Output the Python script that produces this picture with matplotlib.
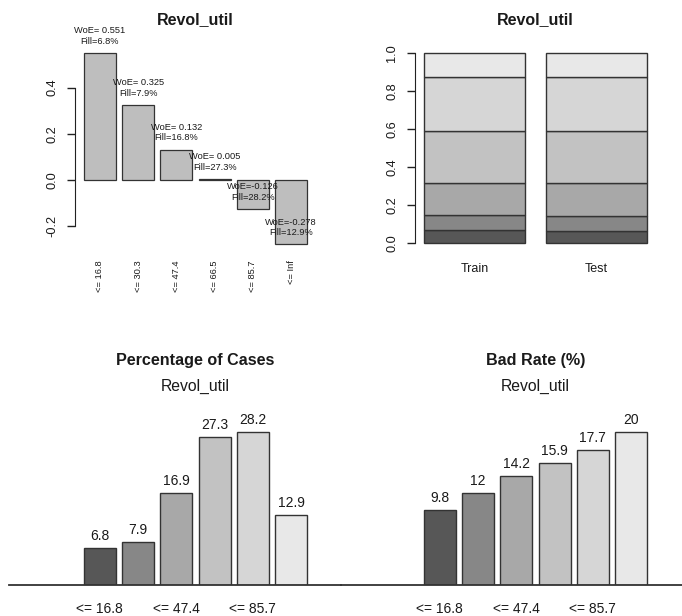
import numpy as np
import matplotlib
matplotlib.use('Agg')
import matplotlib.pyplot as plt

plt.rcParams['font.family'] = ['Liberation Sans', 'DejaVu Sans']

# ---------------- data ----------------
variable = 'Revol_util'
bins = ['<= 16.8', '<= 30.3', '<= 47.4', '<= 66.5', '<= 85.7', '<= Inf']
woe = [0.551, 0.325, 0.132, 0.005, -0.126, -0.278]
fill_pct = [6.8, 7.9, 16.8, 27.3, 28.2, 12.9]
pct_cases = [6.8, 7.9, 16.9, 27.3, 28.2, 12.9]
bad_rate = [9.8, 12, 14.2, 15.9, 17.7, 20]
samples = ['Train', 'Test']
train_dist = [6.8, 7.9, 16.9, 27.3, 28.2, 12.9]
test_dist = [6.6, 7.9, 17.1, 27.4, 28.1, 12.9]

# ---------------- style ----------------
shades = ['#575757', '#878787', '#A8A8A8', '#C2C2C2', '#D6D6D6', '#E8E8E8']
woe_fill = '#BEBEBE'
edge = '#333333'
txt = '#1a1a1a'

W, H = 682, 616
fig = plt.figure(figsize=(W / 100, H / 100), dpi=100)


def px_axes(l, t, r, b):
    return fig.add_axes([l / W, 1 - b / H, (r - l) / W, (b - t) / H])


def r_positions(n, space=0.2, width=1.0):
    right = np.cumsum(np.full(n, space + width))
    left = right - width
    centers = left + width / 2
    ext = 0.04 * (right.max() - left.min())
    return centers, (left.min() - ext, right.max() + ext)


def r_ylim(vals):
    lo, hi = min(min(vals), 0), max(max(vals), 0)
    ext = 0.04 * (hi - lo)
    return lo - ext, hi + ext


def style_yaxis(ax, lo, hi, ticks):
    for s in ['top', 'right', 'bottom']:
        ax.spines[s].set_visible(False)
    ax.spines['left'].set_bounds(lo, hi)
    ax.spines['left'].set_color('#222222')
    ax.set_yticks(ticks)
    ax.set_yticklabels([f'{t:.1f}' for t in ticks])
    ax.tick_params(axis='y', length=5.8, width=1, color='#222222', pad=6.3,
                   labelsize=9.2, labelrotation=90, labelcolor=txt)
    for lbl in ax.get_yticklabels():
        lbl.set_va('center')


# ---------------- top-left: WoE ----------------
ax1 = px_axes(75, 45, 316, 252)
c6, xl6 = r_positions(len(bins))
ax1.bar(c6, woe, width=1.0, color=woe_fill, edgecolor=edge, linewidth=0.9)
ax1.set_xlim(*xl6)
ax1.set_ylim(*r_ylim(woe))
style_yaxis(ax1, -0.2, 0.4, [-0.2, 0.0, 0.2, 0.4])
ax1.set_xticks(c6)
ax1.set_xticklabels(bins, rotation=90, fontsize=6.7, color=txt)
ax1.tick_params(axis='x', length=0, pad=5.8)
for x, w, f in zip(c6, woe, fill_pct):
    ax1.annotate(f'WoE={w: .3f}\nFill={f}%', (x, w), xytext=(0, 12.2),
                 textcoords='offset points', ha='center', va='center',
                 fontsize=6.7, linespacing=1.25, color=txt,
                 annotation_clip=False)
fig.text(195.5 / W, 1 - 20 / H, variable, ha='center', va='center',
         fontsize=11.5, fontweight='bold', color=txt)

# ---------------- top-right: Train / Test distribution ----------------
ax2 = px_axes(415, 45, 656, 251)
c2, xl2 = r_positions(len(samples))
bottom = np.zeros(len(samples))
for i in range(len(bins)):
    h = np.array([train_dist[i], test_dist[i]]) / 100.0
    ax2.bar(c2, h, bottom=bottom, width=1.0, color=shades[i],
            edgecolor=edge, linewidth=1.0)
    bottom += h
ax2.set_xlim(*xl2)
ax2.set_ylim(-0.04, 1.04)
style_yaxis(ax2, 0.0, 1.0, [0.0, 0.2, 0.4, 0.6, 0.8, 1.0])
ax2.set_xticks(c2)
ax2.set_xticklabels(samples, fontsize=9, color=txt)
ax2.tick_params(axis='x', length=0, pad=8.8)
fig.text(535.5 / W, 1 - 20 / H, variable, ha='center', va='center',
         fontsize=11.5, fontweight='bold', color=txt)


# ---------------- bottom panels ----------------
def bottom_panel(l, r, vals, title, line_from, line_to):
    ax = px_axes(l, 400, r, 585)
    c, xl = r_positions(len(vals))
    ax.bar(c, vals, width=1.0, color=shades, edgecolor=edge, linewidth=1.0)
    ax.set_xlim(*xl)
    ax.set_ylim(0, max(vals) * 185 / 153)
    for s in ax.spines.values():
        s.set_visible(False)
    ax.set_yticks([])
    ax.set_xticks(c[::2])
    ax.set_xticklabels(bins[::2], fontsize=10, color=txt)
    ax.tick_params(axis='x', length=0, pad=12.3)
    span = r - l
    ax.axhline(0, xmin=(line_from - l) / span, xmax=(line_to - l) / span,
               color='#333333', linewidth=1.3, clip_on=False)
    for x, v in zip(c, vals):
        ax.annotate(f'{v:g}', (x, v), xytext=(0, 8.7), textcoords='offset points',
                    ha='center', va='center', fontsize=10, color=txt)
    cx = (l + r) / 2
    fig.text(cx / W, 1 - 361 / H, title, ha='center', va='center',
             fontsize=11.6, fontweight='bold', color=txt)
    fig.text(cx / W, 1 - 386 / H, variable, ha='center', va='center',
             fontsize=11.3, color=txt)
    return ax


bottom_panel(75, 316, pct_cases, 'Percentage of Cases', 9, 341)
bottom_panel(415, 656, bad_rate, 'Bad Rate (%)', 341, 682)

fig.savefig('out.png', dpi=100)
